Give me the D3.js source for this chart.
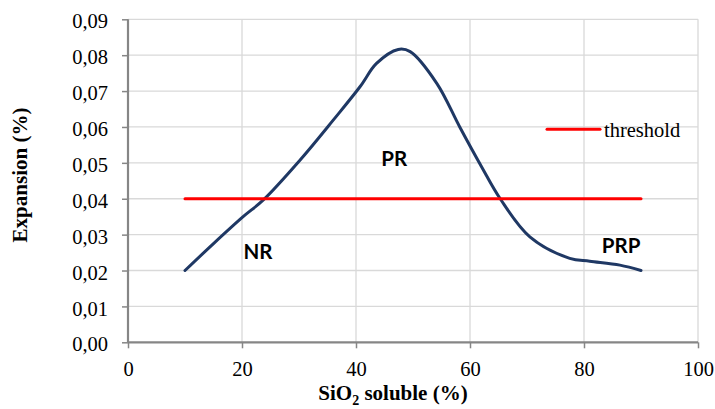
<!DOCTYPE html>
<html>
<head>
<meta charset="utf-8">
<script src="https://cdn.jsdelivr.net/npm/d3@7"></script>
<style>
  body { margin: 0; background: #fff; }
</style>
</head>
<body>
<div id="chart"></div>
<script>
// --------------------------------------
//  Data
// --------------------------------------

const silica = [10, 15, 20.2, 23.7, 30.2, 36, 40.7, 43.6, 47.4, 49.5, 54.2, 58.2, 62, 65.3, 70.5, 77.5, 81, 86.3, 90];
const expansion = [0.02, 0.0275, 0.035, 0.0396, 0.0508, 0.0619, 0.0712, 0.0777, 0.0816, 0.081, 0.0721, 0.060, 0.049, 0.040, 0.0294, 0.0234, 0.0226, 0.0215, 0.020];
const thresholdX = [10, 90];
const thresholdY = [0.04, 0.04];
const xTicks = [0, 20, 40, 60, 80, 100];
const yTicks = [0, 0.01, 0.02, 0.03, 0.04, 0.05, 0.06, 0.07, 0.08, 0.09];
const zones = [
  { label: "NR", x: 22.8, y: 0.0231 },
  { label: "PR", x: 46.7, y: 0.0492 },
  { label: "PRP", x: 86.5, y: 0.0248 }
];

// --------------------------------------
//  Canvas
// --------------------------------------

const width = 715, height = 409;
const margin = { top: 19.3, right: 17, bottom: 66.7, left: 128 };
const innerwidth = width - margin.left - margin.right;
const innerheight = height - margin.top - margin.bottom;
const serif = "'Liberation Serif', 'Times New Roman', serif";
const fs = "20.5px";

const svg = d3.select("#chart")
  .append("svg")
    .attr("width", width)
    .attr("height", height)
    .attr("viewBox", [0, 0, width, height])
    .style("font-family", serif);

const inner = svg.append("g")
    .attr("transform", `translate(${margin.left}, ${margin.top})`);

// --------------------------------------
//  Scales
// --------------------------------------

const x = d3.scaleLinear().domain([0, 100]).range([0, innerwidth]);
const y = d3.scaleLinear().domain([0, 0.09]).range([innerheight, 0]);

// grid
inner.append("g")
  .selectAll("line")
  .data(yTicks.slice(1))
  .join("line")
    .attr("x1", 0).attr("x2", innerwidth)
    .attr("y1", d => y(d)).attr("y2", d => y(d))
    .attr("stroke", "#d9d9d9").attr("stroke-width", 1.3);

inner.append("g")
  .selectAll("line")
  .data(xTicks.slice(1))
  .join("line")
    .attr("x1", d => x(d)).attr("x2", d => x(d))
    .attr("y1", 0).attr("y2", innerheight)
    .attr("stroke", "#d9d9d9").attr("stroke-width", 1.3);

// axes
const fmt = d => d3.format(".2f")(d).replace(".", ",");

const yAxis = inner.append("g")
  .call(d3.axisLeft(y).tickValues(yTicks).tickFormat(fmt).tickSize(6).tickPadding(14));

const xAxis = inner.append("g")
  .attr("transform", `translate(0, ${innerheight})`)
  .call(d3.axisBottom(x).tickValues(xTicks).tickSize(6).tickPadding(13));

[xAxis, yAxis].forEach(a => {
  a.attr("font-family", null).attr("font-size", null);
  a.select(".domain").attr("stroke", "#868686").attr("stroke-width", 2.2);
  a.selectAll(".tick line").attr("stroke", "#868686").attr("stroke-width", 1.5);
  a.selectAll(".tick text")
    .style("font-family", serif)
    .style("font-size", fs)
    .attr("fill", "#000");
});
yAxis.selectAll(".tick text").attr("dy", "0.42em");
xAxis.select(".domain").attr("d", `M0,0H${innerwidth}`);
yAxis.select(".domain").attr("d", `M0,0V${innerheight}`);

// --------------------------------------
//  Lines
// --------------------------------------

const line = d3.line()
  .x(d => x(d[0]))
  .y(d => y(d[1]))
  .curve(d3.curveCatmullRom.alpha(0.5));

inner.append("path")
  .datum(d3.zip(silica, expansion))
  .attr("d", line)
  .attr("fill", "none")
  .attr("stroke", "#1f3864")
  .attr("stroke-width", 3)
  .attr("stroke-linecap", "round");

inner.append("path")
  .datum(d3.zip(thresholdX, thresholdY))
  .attr("d", d3.line().x(d => x(d[0])).y(d => y(d[1])))
  .attr("fill", "none")
  .attr("stroke", "#ff0000")
  .attr("stroke-width", 3)
  .attr("stroke-linecap", "round");

// zone labels
inner.selectAll("text.zone")
  .data(zones)
  .join("text")
    .attr("class", "zone")
    .attr("x", d => x(d.x))
    .attr("y", d => y(d.y))
    .attr("text-anchor", "middle")
    .style("font-family", "Lato, 'Liberation Sans', sans-serif")
    .style("font-weight", "bold")
    .style("font-size", "20.5px")
    .text(d => d.label);

// legend
svg.append("line")
  .attr("x1", 547).attr("x2", 600)
  .attr("y1", 129.3).attr("y2", 129.3)
  .attr("stroke", "#ff0000").attr("stroke-width", 3).attr("stroke-linecap", "round");

svg.append("text")
  .attr("x", 604).attr("y", 137)
  .style("font-size", fs)
  .text("threshold");

// axis titles
const xt = svg.append("text")
  .attr("x", 393)
  .attr("y", 400)
  .attr("text-anchor", "middle")
  .style("font-weight", "bold")
  .style("font-size", "21px");
xt.append("tspan").text("SiO");
xt.append("tspan").style("font-size", "14px").attr("dy", 5).text("2");
xt.append("tspan").attr("dy", -5).text(" soluble (%)");

svg.append("text")
  .attr("transform", `translate(27, 175) rotate(-90)`)
  .attr("text-anchor", "middle")
  .style("font-weight", "bold")
  .style("font-size", "21px")
  .text("Expansion (%)");
</script>
</body>
</html>
